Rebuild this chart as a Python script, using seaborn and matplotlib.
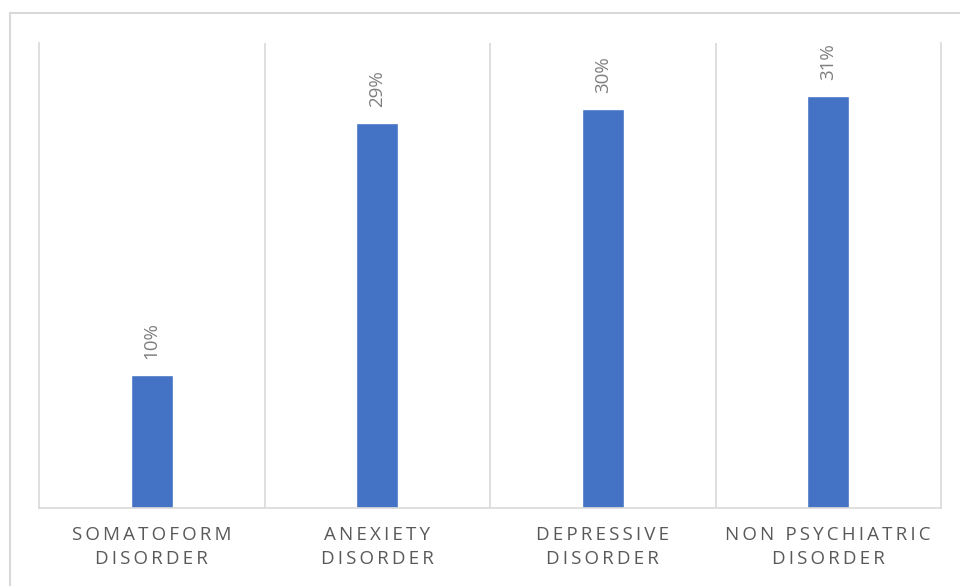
import matplotlib
matplotlib.use("Agg")
import matplotlib.pyplot as plt
from matplotlib.lines import Line2D
import seaborn as sns
import pandas as pd

categories = ["SOMATOFORM\nDISORDER", "ANEXIETY\nDISORDER", "DEPRESSIVE\nDISORDER", "NON PSYCHIATRIC\nDISORDER"]
values = [0.10, 0.29, 0.30, 0.31]
value_labels = ["10%", "29%", "30%", "31%"]

BAR_COLOR = "#4472C4"
GRID_COLOR = "#D9D9D9"
TEXT_COLOR = "#595959"


def spaced(text):
    # widen letter spacing with thin spaces between characters
    return "\n".join("\u2009".join(line) for line in text.split("\n"))


sns.set_theme(style="white")
plt.rcParams["font.family"] = ["Open Sans", "DejaVu Sans"]

df = pd.DataFrame({"category": categories, "value": values})

fig = plt.figure(figsize=(9.6, 5.86), dpi=100)
ax = fig.add_axes([39 / 960, 78 / 586, (941 - 39) / 960, (508 - 43) / 586])

sns.barplot(data=df, x="category", y="value", color=BAR_COLOR, width=0.185,
            saturation=1, ax=ax)

ax.set_ylim(0, 0.35)
ax.set_xlim(-0.5, len(categories) - 0.5)
ax.set_yticks([])
ax.set_xlabel("")
ax.set_ylabel("")

# category separators
for xb in [i + 0.5 for i in range(len(categories) - 1)]:
    ax.axvline(xb, color=GRID_COLOR, lw=1.2, zorder=0)
for side in ["left", "right", "bottom"]:
    ax.spines[side].set_visible(True)
    ax.spines[side].set_color(GRID_COLOR)
    ax.spines[side].set_linewidth(1.2)
ax.spines["top"].set_visible(False)

ax.set_xticks(range(len(categories)))
ax.set_xticklabels([spaced(c) for c in categories], color=TEXT_COLOR,
                   fontsize=13.5, linespacing=1.45)
ax.tick_params(axis="x", length=0, pad=13)

for i, (v, lab) in enumerate(zip(values, value_labels)):
    ax.annotate(lab, xy=(i, v), xytext=(0, 11.5), textcoords="offset points",
                ha="center", va="bottom", rotation=90, fontsize=13.5,
                color="#7F7F7F")

# chart area frame
fig.add_artist(Line2D([10 / 960, 10 / 960], [0, 1 - 13 / 586],
                      transform=fig.transFigure, color=GRID_COLOR, lw=1.5))
fig.add_artist(Line2D([10 / 960, 1], [1 - 13 / 586, 1 - 13 / 586],
                      transform=fig.transFigure, color=GRID_COLOR, lw=1.5))

fig.savefig("out.png", dpi=100, facecolor="white")
